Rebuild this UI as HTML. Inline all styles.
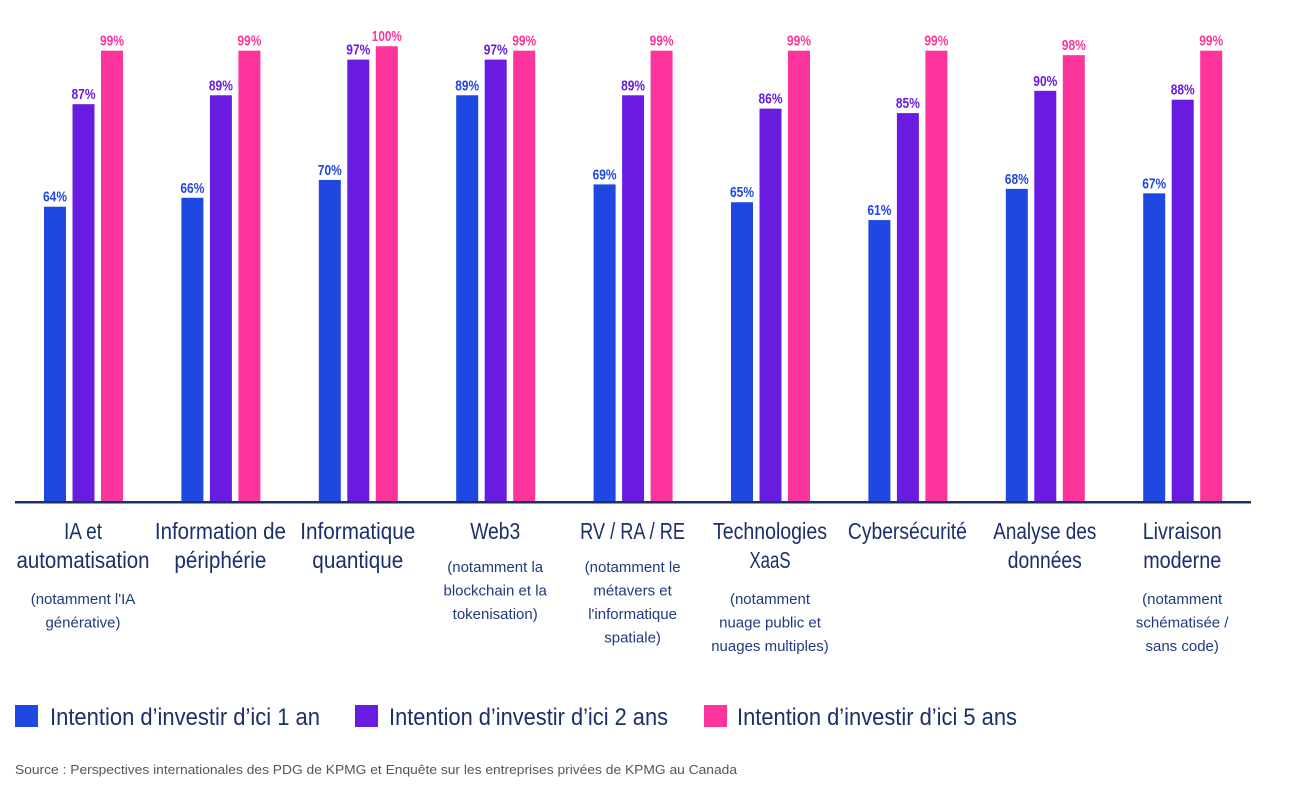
<!DOCTYPE html>
<html><head><meta charset="utf-8"><style>
html,body{margin:0;padding:0;background:#fff;width:1306px;height:802px;overflow:hidden}
svg{display:block}
.v{font-family:"Liberation Sans Narrow","Liberation Sans",sans-serif;font-weight:bold;font-size:15px;text-anchor:middle}
.m{font-family:"Liberation Sans Narrow","Liberation Sans",sans-serif;font-size:23px;fill:#1b2f6b;text-anchor:middle}
.s{font-family:"Liberation Sans",sans-serif;font-size:15px;fill:#1f3a7d;text-anchor:middle}
.l{font-family:"Liberation Sans Narrow","Liberation Sans",sans-serif;font-size:24px;fill:#1b2f6b}
</style></head><body>
<svg id="c" width="1306" height="802" xmlns="http://www.w3.org/2000/svg"></svg>
<script>
const svg=document.getElementById('c');
const NS='http://www.w3.org/2000/svg';
function el(t,a,txt){const e=document.createElementNS(NS,t);for(const k in a)e.setAttribute(k,a[k]);if(txt!==undefined)e.textContent=txt;svg.appendChild(e);return e;}
const cols=['#1f48e0','#6a1be0','#fd349c'];
const data=[[64,87,99],[66,89,99],[70,97,100],[89,97,99],[69,89,99],[65,86,99],[61,85,99],[68,90,98],[67,88,99]];
const base=502;
data.forEach((g,i)=>{
  const x0=44+i*137.4;
  g.forEach((v,j)=>{
    const x=x0+j*28.5;
    const top=50.7+(99-v)*4.457;
    el('rect',{x:x,y:top,width:22,height:base-top,fill:cols[j]});
    const t=v+'%';
    el('text',{class:'v',x:x+11,y:top-5,fill:cols[j],textLength:t.length==4?30:24,lengthAdjust:'spacingAndGlyphs'},t);
  });
});
el('rect',{x:15,y:501,width:1236,height:2.5,fill:'#1b2f6b'});
const labels=[
 [[['IA et',38],['automatisation',133]],['(notamment l\'IA','générative)']],
 [[['Information de',131],['périphérie',92]],[]],
 [[['Informatique',115],['quantique',91]],[]],
 [[['Web3',50]],['(notamment la','blockchain et la','tokenisation)']],
 [[['RV / RA / RE',105]],['(notamment le','métavers et','l\'informatique','spatiale)']],
 [[['Technologies',114],['XaaS',41]],['(notamment','nuage public et','nuages multiples)']],
 [[['Cybersécurité',119]],[]],
 [[['Analyse des',103],['données',74]],[]],
 [[['Livraison',79],['moderne',78]],['(notamment','schématisée /','sans code)']]
];
labels.forEach((L,i)=>{
  const cx=83+i*137.4;
  L[0].forEach((t,k)=>{
    el('text',{class:'m',x:cx,y:539+k*29,textLength:t[1],lengthAdjust:'spacingAndGlyphs'},t[0]);
  });
  const sy=L[0].length==2?604:572;
  L[1].forEach((t,k)=>{el('text',{class:'s',x:cx,y:sy+k*23.5},t);});
});
const leg=[[15,50,270,'Intention d’investir d’ici 1 an'],[355,389,279,'Intention d’investir d’ici 2 ans'],[704,737,280,'Intention d’investir d’ici 5 ans']];
leg.forEach((l,j)=>{
  el('rect',{x:l[0],y:705,width:23,height:22,fill:cols[j]});
  el('text',{class:'l',x:l[1],y:725,textLength:l[2],lengthAdjust:'spacingAndGlyphs'},l[3]);
});
el('text',{x:15,y:774,'font-family':'Liberation Sans,sans-serif','font-size':'13px',fill:'#555',textLength:722,lengthAdjust:'spacingAndGlyphs'},'Source : Perspectives internationales des PDG de KPMG et Enquête sur les entreprises privées de KPMG au Canada');
</script>
</body></html>
